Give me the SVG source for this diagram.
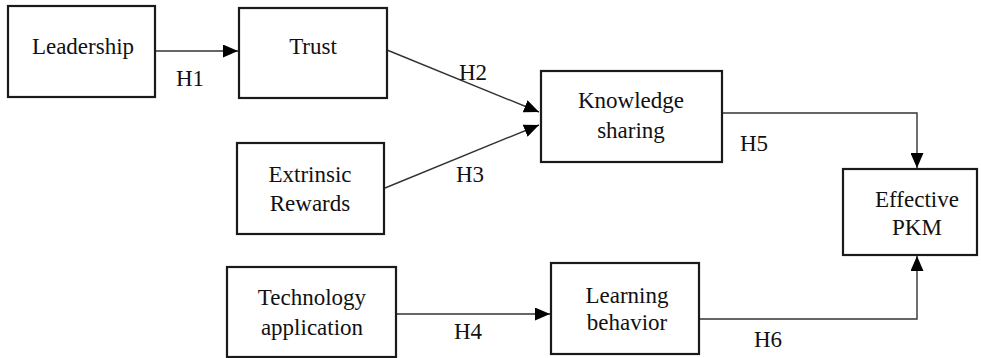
<svg xmlns="http://www.w3.org/2000/svg" width="981" height="358" viewBox="0 0 981 358">
<style>
  .box { fill: #fff; stroke: #1a1a1a; stroke-width: 2.2; }
  .t { font-family: "Liberation Serif", "Times New Roman", serif; font-size: 23px; fill: #111; text-anchor: middle; }
  .c { fill: none; stroke: #333; stroke-width: 1.4; }
</style>
<defs>
  <marker id="ah" markerUnits="userSpaceOnUse" markerWidth="16" markerHeight="13" refX="15" refY="6.5" orient="auto">
    <path d="M0,0 L15,6.5 L0,13 z" fill="#000"/>
  </marker>
</defs>
<rect width="981" height="358" fill="#fff"/>
<g id="connectors">
  <line class="c" x1="155" y1="51" x2="238" y2="51" marker-end="url(#ah)"/>
  <line class="c" x1="387" y1="50" x2="539" y2="112" marker-end="url(#ah)"/>
  <line class="c" x1="385" y1="188" x2="539" y2="125" marker-end="url(#ah)"/>
  <line class="c" x1="396" y1="314" x2="550" y2="314" marker-end="url(#ah)"/>
  <polyline class="c" points="722,113 917,113 917,168" marker-end="url(#ah)"/>
  <polyline class="c" points="699,319 917,319 917,256" marker-end="url(#ah)"/>
  <text class="t" x="190" y="86">H1</text>
  <text class="t" x="473" y="80">H2</text>
  <text class="t" x="470" y="182">H3</text>
  <text class="t" x="468" y="339">H4</text>
  <text class="t" x="754" y="151">H5</text>
  <text class="t" x="768" y="347">H6</text>
</g>
<g id="leadership">
  <rect class="box" x="8" y="6" width="147" height="91"/>
  <text class="t" x="83" y="54">Leadership</text>
</g>
<g id="trust">
  <rect class="box" x="239" y="8" width="148" height="90"/>
  <text class="t" x="313" y="54">Trust</text>
</g>
<g id="extrinsic-rewards">
  <rect class="box" x="237" y="143" width="147" height="91"/>
  <text class="t" x="310" y="182">Extrinsic</text>
  <text class="t" x="310" y="211">Rewards</text>
</g>
<g id="knowledge-sharing">
  <rect class="box" x="541" y="71" width="181" height="91"/>
  <text class="t" x="631" y="108">Knowledge</text>
  <text class="t" x="631" y="138">sharing</text>
</g>
<g id="effective-pkm">
  <rect class="box" x="843" y="169" width="134" height="86"/>
  <text class="t" x="917" y="207">Effective</text>
  <text class="t" x="917" y="235">PKM</text>
</g>
<g id="technology-application">
  <rect class="box" x="227" y="267" width="169" height="90"/>
  <text class="t" x="312" y="305">Technology</text>
  <text class="t" x="312" y="335">application</text>
</g>
<g id="learning-behavior">
  <rect class="box" x="551" y="263" width="148" height="91"/>
  <text class="t" x="627" y="303">Learning</text>
  <text class="t" x="627" y="330">behavior</text>
</g>
</svg>
